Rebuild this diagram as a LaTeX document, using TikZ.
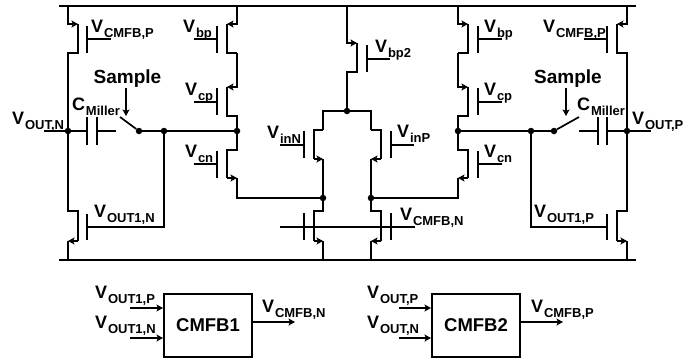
\documentclass[tikz,border=0pt]{standalone}
\usepackage{fontspec}
\setmainfont{Liberation Sans}
\usetikzlibrary{arrows.meta}
\newcommand{\vsub}[2]{#1\kern.8pt\raisebox{-5.5pt}{\fontsize{13}{13}\selectfont #2}}
\tikzset{
  >={Stealth[length=6.5pt,width=7pt,inset=1.5pt]},
  wire/.style={line width=2pt, line join=miter},
  lead/.style={line width=1.7pt},
  thin wire/.style={line width=1.2pt},
  dot/.style={circle, fill=black, inner sep=0pt, minimum size=6.5pt},
  lbl/.style={anchor=base west, inner sep=0pt, font=\fontsize{18}{18}\selectfont\bfseries},
  big/.style={inner sep=0pt, font=\fontsize{19}{19}\selectfont\bfseries},
  block/.style={draw, line width=2pt, inner sep=0pt, font=\fontsize{18.5}{18.5}\selectfont\bfseries}
}

\begin{document}
\begin{tikzpicture}[x=1pt,y=-1pt]
\useasboundingbox (0,0) rectangle (700,360);
% rails
\coordinate (vddL) at (59,6);
\coordinate (vddR) at (636,6);
\coordinate (gndL) at (59,260);
\coordinate (gndR) at (636,260);
\draw[wire] (vddL) -- (vddR);
\draw[wire] (gndL) -- (gndR);
% junctions
\node[dot] (outN) at (68,131) {};
\node[dot] (sw1) at (139,131) {};
\node[dot] (fbN) at (164,131) {};
\node[dot] (midN) at (237,131) {};
\node[dot] (tail) at (347,111) {};
\node[dot] (foldN) at (323,198) {};
\node[dot] (foldP) at (371,198) {};
\node[dot] (midP) at (458,131) {};
\node[dot] (fbP) at (531,131) {};
\node[dot] (sw2) at (554,131) {};
\node[dot] (outP) at (627,131) {};
% left output column
\draw[wire,->] (68,6) -- (68,24) -- (78,24);
\draw[wire] (78,24) -- (78,53) -- (68,53) -- (outN);
\draw[wire] (87,26) -- (87,53);
\draw[lead] (87,39) -- (111,39);
\draw[wire] (outN) -- (68,211) -- (78,211) -- (78,241);
\draw[wire,->] (78,241) -- (68,241);
\draw[wire] (68,241) -- (68,260);
\draw[wire] (87,214) -- (87,240);
\draw[lead] (87,227) -- (164,227) -- (fbN);
% miller cap and switch, left
\draw[lead] (44,131) -- (outN) -- (87,131);
\draw[wire] (87,117) -- (87,145);
\draw[wire] (97,117) -- (97,145);
\draw[lead] (97,131) -- (116,131);
\draw[lead] (120,117) -- (sw1);
\draw[wire] (sw1) -- (fbN) -- (midN);
\draw[lead,->] (126,88) -- (126,116);
% left cascode column
\draw[wire,->] (237,6) -- (237,24) -- (227,24);
\draw[wire] (227,24) -- (227,53) -- (237,53);
\draw[wire] (217,26) -- (217,53);
\draw[lead] (217,39) -- (194,39);
\draw[wire,->] (237,53) -- (237,87) -- (227,87);
\draw[wire] (227,87) -- (227,116) -- (237,116) -- (midN);
\draw[wire] (217,88) -- (217,115);
\draw[lead] (217,102) -- (194,102);
\draw[wire] (midN) -- (237,150) -- (227,150) -- (227,178);
\draw[wire,->] (227,178) -- (237,178);
\draw[wire] (217,151) -- (217,178);
\draw[lead] (217,164) -- (194,164);
\draw[wire] (237,178) -- (237,198) -- (foldN);
% tail source and input pair
\draw[wire,->] (347,6) -- (347,43) -- (357,43);
\draw[wire] (357,43) -- (357,72) -- (347,72) -- (tail);
\draw[wire] (367,45) -- (367,72);
\draw[lead] (367,59) -- (390,59);
\draw[wire] (323,130) -- (323,111) -- (tail) -- (371,111) -- (371,130);
\draw[wire] (323,130) -- (314,130) -- (314,159);
\draw[wire,->] (314,159) -- (323,159);
\draw[wire] (323,159) -- (foldN);
\draw[wire] (304,131) -- (304,158);
\draw[lead] (304,145) -- (280,145);
\draw[wire] (371,130) -- (381,130) -- (381,159);
\draw[wire,->] (381,159) -- (371,159);
\draw[wire] (371,159) -- (foldP);
\draw[wire] (391,131) -- (391,158);
\draw[lead] (391,145) -- (414,145);
% bottom pair
\draw[wire] (foldN) -- (323,211) -- (314,211) -- (314,241);
\draw[wire,->] (314,241) -- (323,241);
\draw[wire] (323,241) -- (323,260);
\draw[wire] (304,213) -- (304,240);
\draw[wire] (foldP) -- (371,211) -- (381,211) -- (381,241);
\draw[wire,->] (381,241) -- (371,241);
\draw[wire] (371,241) -- (371,260);
\draw[wire] (391,213) -- (391,240);
\draw[lead] (280,227) -- (415,227);
\draw[wire] (foldP) -- (458,198) -- (458,178);
% right cascode column
\draw[wire,->] (458,6) -- (458,24) -- (468,24);
\draw[wire] (468,24) -- (468,53) -- (458,53);
\draw[wire] (478,26) -- (478,53);
\draw[lead] (478,39) -- (502,39);
\draw[wire,->] (458,53) -- (458,87) -- (468,87);
\draw[wire] (468,87) -- (468,116) -- (458,116) -- (midP);
\draw[wire] (478,88) -- (478,115);
\draw[lead] (478,102) -- (502,102);
\draw[wire] (midP) -- (458,150) -- (468,150) -- (468,178);
\draw[wire,->] (468,178) -- (458,178);
\draw[wire] (478,151) -- (478,178);
\draw[lead] (478,164) -- (502,164);
% miller cap and switch, right
\draw[wire] (midP) -- (fbP) -- (sw2);
\draw[lead] (sw2) -- (579,117);
\draw[lead,->] (566,88) -- (566,116);
\draw[lead] (579,131) -- (598,131);
\draw[wire] (598,117) -- (598,145);
\draw[wire] (607,117) -- (607,145);
\draw[lead] (607,131) -- (outP) -- (651,131);
% right output column
\draw[wire,->] (627,6) -- (627,24) -- (617,24);
\draw[wire] (617,24) -- (617,53) -- (627,53) -- (outP);
\draw[wire] (607,26) -- (607,53);
\draw[lead] (607,39) -- (584,39);
\draw[wire] (outP) -- (627,211) -- (617,211) -- (617,241);
\draw[wire,->] (617,241) -- (627,241);
\draw[wire] (627,241) -- (627,260);
\draw[wire] (607,214) -- (607,240);
\draw[lead] (fbP) -- (531,227) -- (607,227);
% labels in the circuit
\node[lbl] (lCmfbPL) at (91,32) {\vsub{V}{CMFB,P}};
\node[lbl] (lCmfbPR) at (543,32) {\vsub{V}{CMFB,P}};
\node[lbl] (lBpL) at (183,32) {\vsub{V}{bp}};
\node[lbl] (lCpL) at (185,95) {\vsub{V}{cp}};
\node[lbl] (lCnL) at (185,157) {\vsub{V}{cn}};
\node[lbl] (lBpR) at (484,32) {\vsub{V}{bp}};
\node[lbl] (lCpR) at (484,95) {\vsub{V}{cp}};
\node[lbl] (lCnR) at (484,157) {\vsub{V}{cn}};
\node[lbl] (lOutN) at (12,124) {\vsub{V}{OUT,N}};
\node[lbl] (lOutP) at (632,124) {\vsub{V}{OUT,P}};
\node[lbl] (lMilN) at (72,110) {\vsub{C}{Miller}};
\node[lbl] (lMilP) at (577,110) {\vsub{C}{Miller}};
\node[lbl] (lOut1N) at (94,217) {\vsub{V}{OUT1,N}};
\node[lbl] (lOut1P) at (534,217) {\vsub{V}{OUT1,P}};
\node[lbl] (lInN) at (267,138) {\vsub{V}{inN}};
\node[lbl] (lInP) at (397,137) {\vsub{V}{inP}};
\node[lbl] (lBp2) at (375,52) {\vsub{V}{bp2}};
\node[lbl] (lCmfbN) at (400,220) {\vsub{V}{CMFB,N}};
\node[big] (sampleN) at (127.5,79) {Sample};
\node[big] (sampleP) at (568,79) {Sample};
% feedback blocks
\node[block, minimum width=88pt, minimum height=63pt] (cmfbA) at (208,325.5) {CMFB1};
\node[block, minimum width=88pt, minimum height=63pt] (cmfbB) at (476,325.5) {CMFB2};
\coordinate (inA1) at (130,308);
\coordinate (inA2) at (130,338);
\coordinate (outA) at (295,322);
\coordinate (inB1) at (398.5,308);
\coordinate (inB2) at (398.5,338);
\coordinate (outB) at (563,322);
\draw[wire,->] (inA1) -- (inA1 -| cmfbA.west);
\draw[wire,->] (inA2) -- (inA2 -| cmfbA.west);
\draw[thin wire,->] (outA -| cmfbA.east) -- (outA);
\draw[wire,->] (inB1) -- (inB1 -| cmfbB.west);
\draw[wire,->] (inB2) -- (inB2 -| cmfbB.west);
\draw[thin wire,->] (outB -| cmfbB.east) -- (outB);
\node[lbl] (lA1) at (95,298) {\vsub{V}{OUT1,P}};
\node[lbl] (lA2) at (95,328) {\vsub{V}{OUT1,N}};
\node[lbl] (lAo) at (262,312) {\vsub{V}{CMFB,N}};
\node[lbl] (lB1) at (367,298) {\vsub{V}{OUT,P}};
\node[lbl] (lB2) at (367,328) {\vsub{V}{OUT,N}};
\node[lbl] (lBo) at (531,312) {\vsub{V}{CMFB,P}};
\end{tikzpicture}
\end{document}
